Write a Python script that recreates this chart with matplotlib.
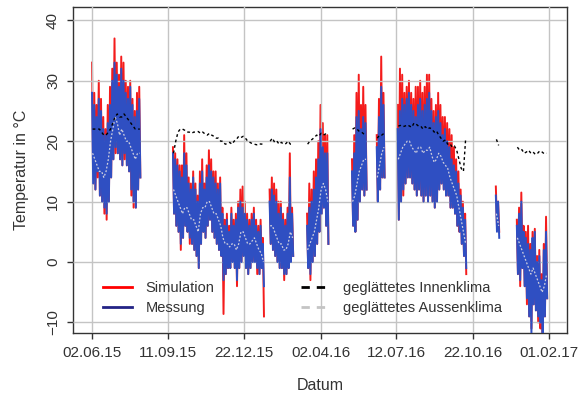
import numpy as np
import pandas as pd
import matplotlib
matplotlib.use("Agg")
import matplotlib.pyplot as plt
import matplotlib.dates as mdates
from matplotlib.lines import Line2D

plt.rcParams['font.family'] = ['Liberation Sans', 'DejaVu Sans']

# measured periods: start date and number of 3-day steps (hi/lo pair per step)
seg_start = ["2015-06-02", "2015-09-18", "2016-01-25", "2016-03-15", "2016-05-14",
             "2016-06-16", "2016-07-14", "2016-11-22", "2016-12-20"]
seg_len = [22, 41, 11, 10, 7, 4, 31, 2, 14]

meas_hi = [28, 26, 24, 27, 25, 22, 21, 23, 26, 30, 33, 31, 29, 32, 30, 28, 27, 29, 26, 24, 25, 27,
           18, 17, 16, 15, 14, 18, 16, 13, 12, 14, 12, 10, 13, 15, 12, 14, 16, 15, 14, 13,
           12, 13, 8, 6, 7, 5, 8, 6, 7, 9, 10, 9, 8, 7, 6, 7, 8, 6, 5, 6, 3,
           10, 12, 11, 10, 8, 9, 7, 6, 8, 14, 8,
           6, 9, 10, 12, 14, 17, 22, 19, 18, 18,
           15, 18, 24, 25, 22, 24, 23,
           19, 24, 29, 26,
           22, 25, 27, 26, 27, 28, 26, 25, 24, 26, 27, 25, 26, 27, 28, 25, 23, 24, 25, 23,
           21, 22, 20, 19, 17, 16, 15, 13, 11, 9, 7,
           11, 10,
           6, 8, 10, 5, 4, 3, 2, 4, 5, 0, 1, -3, 2, 5]
meas_lo = [13, 12, 15, 11, 10, 9, 8, 10, 14, 17, 19, 18, 17, 16, 18, 16, 15, 12, 10, 9, 12, 14,
           8, 6, 5, 3, 4, 6, 5, 4, 3, 2, 1, -1, 3, 5, 4, 6, 7, 5, 4, 3,
           2, 1, -3, -2, -1, -1, 0, -1, -3, -1, 0, 1, -1, -2, -1, 0, 0, -1, -2, -1, -4,
           3, 2, 1, 0, -1, -1, -2, -2, -1, 0, 1,
           -1, -2, 0, 1, 3, 5, 8, 9, 6, 3,
           6, 5, 7, 10, 12, 11, 12,
           10, 12, 14, 14,
           7, 10, 12, 13, 14, 14, 13, 12, 11, 12, 11, 10, 11, 10, 11, 10, 9, 10, 12, 13,
           12, 11, 11, 9, 9, 8, 6, 5, 3, 1, -1,
           5, 4,
           -2, -3, -1, -4, -6, -9, -12, -7, -8, -9, -10, -12, -9, -6]
sim_hi = [33, 28, 26, 30, 27, 24, 22, 26, 29, 32, 37, 33, 31, 34, 33, 30, 29, 30, 27, 25, 28, 29,
          19, 18, 17, 16, 16, 21, 18, 14, 13, 15, 13, 11, 15, 17, 13, 16, 18.5, 17, 15, 15,
          13, 14, 9, 7, 8, 6, 9, 7, 8, 10, 12, 12.5, 10, 8, 7, 8, 9, 7, 6, 7, 4,
          12, 14, 13, 12, 10, 10, 8, 7, 9, 18, 9,
          8, 13, 12, 15, 17, 20, 26, 23, 21, 21,
          17, 21, 28, 31, 26, 29, 26,
          21, 27, 34, 28,
          26, 32, 31, 28, 29, 30, 28, 27, 29, 29, 30, 28, 29, 31, 31, 27, 25, 26, 28, 26,
          24, 24, 23, 22, 21, 19, 17, 15, 12, 10, 8,
          12.5, 10,
          7, 9, 11.5, 6, 5, 6, 3, 5, 5.5, 1, 2, -2, 3, 7.5]
sim_lo = [13, 12, 14, 11, 10, 8, 7, 10, 14, 17, 18, 18, 17, 16, 17, 16, 15, 11, 9, 9, 12, 14,
          8, 6, 5, 2, 4, 6, 5, 3, 3, 2, 1, -1, 3, 5, 4, 6, 7, 5, 4, 3,
          2, 1, -8.6, -2, -1, -1, 0, -1, -4, -1, 0, 1, -1, -2, -1, 0, 0, -2, -2, -1, -9,
          3, 2, 1, 0, -1, -1, -3, -2, -1, 0, 1,
          -1, -3, 0, 1, 3, 5, 8, 9, 6, 3,
          6, 5, 7, 10, 12, 11, 12,
          10, 12, 14, 14,
          7, 10, 11, 13, 14, 14, 13, 12, 11, 12, 11, 10, 11, 10, 11, 10, 9, 10, 12, 13,
          12, 11, 11, 9, 9, 8, 6, 5, 3, 1, -2,
          6, 5,
          -2, -4, -1, -4, -7, -9, -11, -7, -8, -10, -11, -13, -9, -6]
indoor = [22, 22, 22, 22, 21.5, 21, 21, 21.5, 22, 23, 24, 24.5, 24, 24, 24.5, 24, 23.5, 23, 22.5, 22, 22, 22,
          18, 20, 21.5, 22, 22, 21.8, 21.5, 21.5, 21.3, 21.5, 21.5, 21.6, 21.3, 21.5, 21.2, 21, 21.3, 21, 20.8, 20.5,
          20.5, 20, 20, 19.5, 19.6, 19.8, 19.5, 20, 20.3, 20.8, 20.6, 20.8, 20.5, 20, 19.8, 19.6, 19.5, 19.4, 19.6, 19.5, 19.6,
          20, 20.5, 19.8, 20, 19.5, 19.8, 19.5, 19.6, 20, 19.5, 19.6,
          19.5, 20, 20.3, 20.6, 21, 20.8, 21.3, 21, 21.2, 21,
          22, 22.2, 22, 21.6, 21.5, 21.2, 21,
          20.5, 21, 21, 21.3,
          22.5, 22.6, 22.4, 22.5, 22.7, 22.5, 22.3, 23, 22.8, 22.5, 22.5, 22, 22.4, 22, 22.2, 22, 21.5, 21.7, 21, 20.5,
          20, 20.2, 19.5, 19.6, 19, 19.2, 18.5, 17, 15.5, 15, 20.5,
          20.3, 19.3,
          19, 18.5, 18.6, 18, 18.2, 18.5, 18, 18.2, 17.8, 18, 18.4, 18.2, 17.9, 18]
outdoor = [18, 17, 16, 15, 15, 14, 15, 17, 20, 22, 24, 23, 21, 22, 21, 20, 20, 19, 18, 17, 18, 18,
           12, 11, 10, 9, 8, 9, 9, 8, 7, 7, 6, 5, 8, 9, 9, 10, 10, 9, 8, 8,
           7, 6, 4, 3, 3, 2.5, 3, 3, 2, 3, 5, 5, 4, 3, 3, 3.5, 4, 3, 2, 1.5, 0,
           6, 6, 5, 4, 3, 3, 2, 2, 3, 5, 4,
           2, 3, 4, 5, 7, 9, 12, 13, 12, 10,
           10, 11, 13, 15, 16, 17, 17,
           14, 16, 18, 19,
           17, 18, 19, 19.5, 20, 20, 19, 18.5, 18, 19, 19, 18, 18.5, 18.5, 19, 17.5, 16.5, 17, 18, 17.5,
           16.5, 16, 15.5, 14, 13, 12, 11, 9, 7, 5, 3,
           8, 6,
           4, 3, 2, 1, 0, -1, -2, -1, -2, -3, -4, -5, -4, -2]

tick_dates = ["2015-06-02", "2015-09-11", "2015-12-22", "2016-04-02",
              "2016-07-12", "2016-10-22", "2017-02-01"]

c_sim = "#f41c1c"
c_meas = "#2f4fc2"
c_in = "black"
c_out = "#cfcfdf"

fig, ax = plt.subplots(figsize=(5.78, 3.96), dpi=100)
fig.subplots_adjust(left=0.1263, right=0.981, bottom=0.159, top=0.9823)

pos = 0
for start, n in zip(seg_start, seg_len):
    t = mdates.date2num(pd.date_range(start, periods=n, freq="3D"))
    tz = np.column_stack([t, t + 1.5]).ravel()
    sl = slice(pos, pos + n)
    sim = np.column_stack([sim_hi[sl], sim_lo[sl]]).ravel()
    meas = np.column_stack([meas_hi[sl], meas_lo[sl]]).ravel()
    ax.plot(tz, sim, color=c_sim, lw=1.4, zorder=2)
    ax.plot(tz, meas, color=c_meas, lw=1.4, zorder=3)
    ax.plot(t + 0.75, outdoor[sl], color=c_out, lw=0.9, ls=(0, (1.5, 1.5)), zorder=4)
    ax.plot(t + 0.75, indoor[sl], color=c_in, lw=1.0, ls=(0, (2, 2)), zorder=4)
    pos += n

ticks = mdates.date2num(pd.to_datetime(tick_dates))
ax.set_xticks(ticks)
ax.set_xticklabels([pd.Timestamp(d).strftime("%d.%m.%y") for d in tick_dates])
ax.set_xlim(ticks[0] - 25.4, ticks[-1] + 24)
ax.set_ylim(-11.75, 42.2)
ax.set_yticks([-10, 0, 10, 20, 30, 40])
for lab in ax.get_yticklabels():
    lab.set_rotation(90)
    lab.set_va("center")

ax.grid(True, color="#c4c4c4", lw=1.0, zorder=5)
ax.set_axisbelow(False)
ax.tick_params(length=4.3, width=1, color="#333333", labelcolor="#333333",
               labelsize=11, pad=5)
for sp in ax.spines.values():
    sp.set_color("#333333")
    sp.set_linewidth(1.0)
ax.set_xlabel("Datum", fontsize=11.5, color="#333333", labelpad=13)
ax.set_ylabel("Temperatur in °C", fontsize=11.5, color="#333333", labelpad=12)

h1 = [Line2D([], [], color="red", lw=2), Line2D([], [], color="#232385", lw=2)]
leg1 = ax.legend(h1, ["Simulation", "Messung"], loc="lower left",
                 bbox_to_anchor=(0.046, 0.033), frameon=False, fontsize=10.5,
                 handlelength=2.0, handletextpad=0.9, labelspacing=0.42,
                 borderpad=0, labelcolor="#333333")
ax.add_artist(leg1)
h2 = [Line2D([], [], color="black", lw=2, ls=(0, (3, 2.5))),
      Line2D([], [], color="#c4c4c4", lw=2, ls=(0, (3, 2.5)))]
ax.legend(h2, ["geglättetes Innenklima", "geglättetes Aussenklima"], loc="lower left",
          bbox_to_anchor=(0.446, 0.033), frameon=False, fontsize=10.5,
          handlelength=2.0, handletextpad=0.9, labelspacing=0.42,
          borderpad=0, labelcolor="#333333")

plt.savefig("out.png", dpi=100)
